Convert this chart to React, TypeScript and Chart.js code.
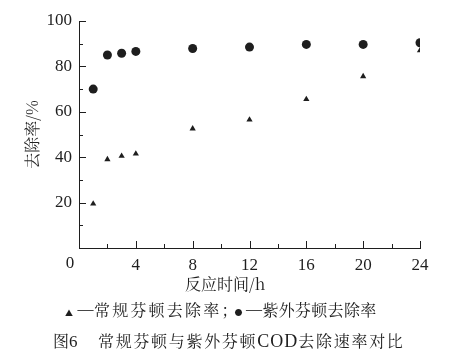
import React, { useEffect, useRef } from "react";
import { Chart, registerables } from "chart.js";

Chart.register(...registerables);

const hours = [1, 2, 3, 4, 8, 12, 16, 20, 24];
const conventionalFenton = [19.5, 39, 40.5, 41.5, 52.6, 56.5, 65.5, 75.6, 87];
const uvFenton = [70, 85, 85.8, 86.6, 87.9, 88.5, 89.7, 89.7, 90.4];
const xTicks = [0, 4, 8, 12, 16, 20, 24];
const yTicks = [20, 40, 60, 80, 100];

const NUM_FONT = "'Liberation Serif', 'Noto Serif CJK SC', 'Noto Sans CJK SC', serif";
const CJK_FONT = "'Noto Serif CJK SC', 'Noto Sans CJK SC', 'Liberation Serif', serif";
const INK = "#1e1e1e";

const tickPlugin = {
  id: "innerTicks",
  afterDraw(chart: any) {
    const { ctx } = chart;
    const xs = chart.scales.x;
    const ys = chart.scales.y;
    const area = chart.chartArea;
    ctx.save();
    ctx.strokeStyle = INK;
    ctx.lineWidth = 1;
    ctx.beginPath();
    for (let v = 2; v <= 24; v += 2) {
      const px = Math.round(xs.getPixelForValue(v)) + 0.5;
      const len = v % 4 === 0 ? 7 : 4;
      ctx.moveTo(px, area.bottom);
      ctx.lineTo(px, area.bottom - len);
    }
    for (let v = 10; v <= 100; v += 10) {
      const py = Math.round(ys.getPixelForValue(v)) + 0.5;
      const len = v % 20 === 0 ? 7 : 4;
      ctx.moveTo(area.left, py);
      ctx.lineTo(area.left + len, py);
    }
    ctx.stroke();
    ctx.fillStyle = INK;
    ctx.font = "17px " + NUM_FONT;
    ctx.textAlign = "center";
    ctx.textBaseline = "top";
    ctx.fillText("0", area.left - 9, area.bottom + 7);
    ctx.restore();
  },
};

export default function App() {
  const ref = useRef<HTMLCanvasElement | null>(null);
  useEffect(() => {
    document.body.style.margin = "0";
    if (!ref.current) return;
    const chart = new Chart(ref.current, {
      type: "scatter",
      data: {
        datasets: [
          {
            label: "常规芬顿去除率",
            data: hours.map((h, i) => ({ x: h, y: conventionalFenton[i] })),
            pointStyle: "triangle",
            pointRadius: 3.6,
            backgroundColor: INK,
            borderColor: INK,
            borderWidth: 0,
          },
          {
            label: "紫外芬顿去除率",
            data: hours.map((h, i) => ({ x: h, y: uvFenton[i] })),
            pointStyle: "circle",
            pointRadius: 4.5,
            backgroundColor: INK,
            borderColor: INK,
            borderWidth: 0,
          },
        ],
      },
      options: {
        responsive: false,
        animation: false,
        devicePixelRatio: 1,
        layout: { padding: { left: 0, top: 21, right: 49, bottom: 55 } },
        plugins: { legend: { display: false }, tooltip: { enabled: false } },
        scales: {
          x: {
            type: "linear",
            min: 0,
            max: 24,
            afterFit: (s: any) => { s.height = 50; },
            afterBuildTicks: (s: any) => { s.ticks = xTicks.map((v) => ({ value: v })); },
            ticks: {
              color: INK,
              font: { family: NUM_FONT, size: 17 },
              padding: 7,
              maxRotation: 0,
              callback: (v: any) => (v === 0 ? "" : String(v)),
            },
            grid: { display: true, drawOnChartArea: false, drawTicks: false },
            border: { display: true, color: INK, width: 1 },
            title: { display: false },
          },
          y: {
            type: "linear",
            min: 0,
            max: 100,
            afterFit: (s: any) => { s.width = 79; },
            afterBuildTicks: (s: any) => { s.ticks = yTicks.map((v) => ({ value: v })); },
            ticks: {
              color: INK,
              font: { family: NUM_FONT, size: 17 },
              padding: 7,
            },
            grid: { display: true, drawOnChartArea: false, drawTicks: false },
            border: { display: true, color: INK, width: 1 },
            title: {
              display: true,
              text: "去除率/%",
              color: INK,
              font: { family: CJK_FONT, size: 16 },
              padding: { top: 22, bottom: 0 },
            },
          },
        },
      },
      plugins: [tickPlugin],
    } as any);
    return () => chart.destroy();
  }, []);

  const textBase: React.CSSProperties = {
    position: "absolute",
    fontFamily: CJK_FONT,
    color: INK,
    whiteSpace: "nowrap",
    lineHeight: "20px",
  };
  const dash: React.CSSProperties = {
    display: "inline-block",
    width: 17,
    marginRight: 0,
    textAlign: "center",
    fontFamily: NUM_FONT,
    position: "relative",
    top: -2,
  };

  return (
    <div style={{ position: "relative", width: 469, height: 353, background: "#fff" }}>
      <canvas ref={ref} width={469} height={353} style={{ display: "block" }} />
      <div style={{ ...textBase, left: 185, top: 274, fontSize: 16 }}>反应时间/h</div>
      <div style={{ ...textBase, left: 65, top: 300, fontSize: 16 }}>
        <span style={{ fontSize: 8, marginRight: 4 }}>▲</span>
        <span style={dash}>—</span>
        <span style={{ letterSpacing: "2.2px" }}>常规芬顿去除率</span>
        <span style={{ display: "inline-block", width: 13 }}>；</span>
        <span style={{ fontSize: 8, marginRight: 3 }}>●</span>
        <span style={dash}>—</span>
        <span style={{ letterSpacing: "0.3px" }}>紫外芬顿去除率</span>
      </div>
      <div style={{ ...textBase, left: 53, top: 331, fontSize: 16 }}>
        图<span style={{ fontFamily: NUM_FONT, fontSize: 17 }}>6</span>
      </div>
      <div style={{ ...textBase, left: 98, top: 331, fontSize: 16, letterSpacing: "1.7px" }}>
        常规芬顿与紫外芬顿<span style={{ fontFamily: NUM_FONT, fontSize: 18, letterSpacing: "1px" }}>COD</span>去除速率对比
      </div>
    </div>
  );
}
